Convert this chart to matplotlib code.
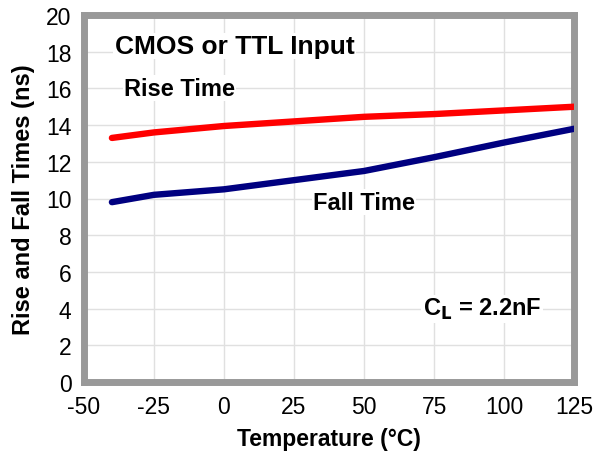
import numpy as np
import matplotlib.pyplot as plt

plt.rcParams['font.family'] = ['Liberation Sans', 'DejaVu Sans']
plt.rcParams['axes.unicode_minus'] = False

temp       = [-40, -25, 0, 25, 50, 75, 100, 125]
rise_time  = [13.3, 13.6, 13.95, 14.2, 14.45, 14.6, 14.8, 15.0]
fall_time  = [9.8, 10.2, 10.5, 11.0, 11.5, 12.25, 13.05, 13.8]

xticks = [-50, -25, 0, 25, 50, 75, 100, 125]
yticks = [0, 2, 4, 6, 8, 10, 12, 14, 16, 18, 20]

fig = plt.figure(figsize=(5.95, 4.56), dpi=100)
ax = fig.add_axes([0.141, 0.160, 0.824, 0.805])

ax.plot(temp, rise_time, color='#ff0000', linewidth=4.6, solid_capstyle='round', solid_joinstyle='round', zorder=3)
ax.plot(temp, fall_time, color='#000080', linewidth=4.6, solid_capstyle='round', solid_joinstyle='round', zorder=3)

ax.set_xlim(-50, 125)
ax.set_ylim(0, 20)
ax.set_xticks(xticks)
ax.set_yticks(yticks)
ax.tick_params(length=0, labelsize=16.5, pad=9)
ax.grid(True, color='#e0e0e0', linewidth=1)
ax.set_axisbelow(True)
for s in ax.spines.values():
    s.set_color('#999999')
    s.set_linewidth(5)

ax.set_xlabel('Temperature (°C)', fontsize=16.5, fontweight='bold', labelpad=7)
ax.set_ylabel('Rise and Fall Times (ns)', fontsize=17, fontweight='bold', labelpad=8)

box = dict(facecolor='white', edgecolor='none', pad=1)
ax.text(-39, 18.3, 'CMOS or TTL Input', fontsize=19, fontweight='bold', va='center', bbox=box, zorder=4)
ax.text(-35.7, 16.0, 'Rise Time', fontsize=17, fontweight='bold', va='center', bbox=box, zorder=4)
ax.text(31.8, 9.8, 'Fall Time', fontsize=17, fontweight='bold', va='center', bbox=box, zorder=4)
ax.text(71, 4.0, r'C$_\mathbf{L}$ = 2.2nF', fontsize=17, fontweight='bold', va='center', bbox=box, zorder=4)

plt.savefig('out.png')
